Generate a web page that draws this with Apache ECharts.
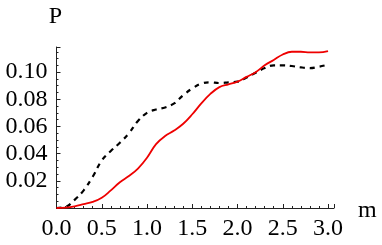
<!DOCTYPE html>
<html>
<head>
<meta charset="utf-8">
<script src="https://cdn.jsdelivr.net/npm/echarts@6/dist/echarts.min.js"></script>
<style>html,body{margin:0;padding:0;background:#fff;}#c{width:382px;height:245px;}</style>
</head>
<body>
<div id="c"></div>
<script>
var mValues = [0,0.1,0.2,0.3,0.4,0.5,0.6,0.7,0.8,0.9,1.0,1.1,1.2,1.3,1.4,1.5,1.6,1.7,1.8,1.9,2.0,2.1,2.2,2.3,2.4,2.5,2.6,2.7,2.8,2.9,3.0];
var redP = [0,0.0003,0.0012,0.0028,0.0045,0.0075,0.013,0.019,0.0235,0.029,0.037,0.047,0.053,0.057,0.062,0.069,0.077,0.084,0.089,0.091,0.093,0.0965,0.100,0.105,0.109,0.113,0.115,0.115,0.1145,0.1145,0.1155];
var blackM = [0,0.1,0.2,0.3,0.4,0.5,0.6,0.7,0.8,0.9,1.0,1.1,1.2,1.3,1.4,1.5,1.6,1.7,1.8,1.9,2.0,2.1,2.2,2.3,2.4,2.5,2.6,2.7,2.8,2.9,2.97];
var blackP = [0,0.0008,0.006,0.013,0.023,0.035,0.042,0.048,0.055,0.064,0.070,0.0725,0.074,0.077,0.083,0.088,0.0915,0.0925,0.092,0.0925,0.093,0.096,0.0995,0.103,0.105,0.105,0.1045,0.1035,0.103,0.104,0.105];
var xTicks = {min:0, max:3.066, interval:0.5};
var yTicks = {min:0, max:0.1185, interval:0.02};
var xName = 'm';
var yName = 'P';

function pairs(xs, ys){ return xs.map(function(x,i){return [x, ys[i]];}); }

var font = "'Liberation Serif', 'Times New Roman', serif";
var chart = echarts.init(document.getElementById('c'), null, {renderer:'canvas'});
chart.setOption({
  animation:false,
  backgroundColor:'#fff',
  grid:{left:56.5, right:48, top:47, bottom:37, containLabel:false},
  xAxis:{
    type:'value', min:xTicks.min, max:xTicks.max, interval:xTicks.interval,
    axisLine:{show:true, onZero:false, lineStyle:{color:'#222', width:1}},
    axisTick:{show:true, inside:true, length:4, lineStyle:{color:'#222'}},
    minorTick:{show:true, splitNumber:5, length:2, lineStyle:{color:'#222'}},
    splitLine:{show:false},
    axisLabel:{fontFamily:font, fontSize:24, color:'#000', margin:9, showMaxLabel:false, hideOverlap:false,
      formatter:function(v){return v.toFixed(1);}}
  },
  yAxis:{
    type:'value', min:yTicks.min, max:yTicks.max, interval:yTicks.interval,
    axisLine:{show:true, onZero:false, lineStyle:{color:'#222', width:1}},
    axisTick:{show:true, inside:true, length:4, lineStyle:{color:'#222'}},
    minorTick:{show:true, splitNumber:4, length:2, lineStyle:{color:'#222'}},
    splitLine:{show:false},
    axisLabel:{fontFamily:font, fontSize:24, color:'#000', margin:9, showMinLabel:false, showMaxLabel:false, hideOverlap:false,
      formatter:function(v){return v.toFixed(2);}}
  },
  series:[
    {type:'line', data:pairs(blackM, blackP), smooth:0.4, symbol:'none',
      lineStyle:{color:'#000', width:2.2, type:[5,5]}},
    {type:'line', data:pairs(mValues, redP), smooth:0.4, symbol:'none',
      lineStyle:{color:'#ee0000', width:1.8}}
  ]
});
var xEnd = chart.convertToPixel({gridIndex:0}, [xTicks.max, 0]);
var yEnd = chart.convertToPixel({gridIndex:0}, [0, yTicks.max]);
chart.setOption({
  graphic:[
    {type:'text', x:xEnd[0]+24, y:xEnd[1]+3, style:{text:xName, font:"24px " + font, fill:'#000', textAlign:'left', textVerticalAlign:'middle'}},
    {type:'text', x:yEnd[0]-1, y:yEnd[1]-30, style:{text:yName, font:"24px " + font, fill:'#000', textAlign:'center', textVerticalAlign:'middle'}}
  ]
});
</script>
</body>
</html>
